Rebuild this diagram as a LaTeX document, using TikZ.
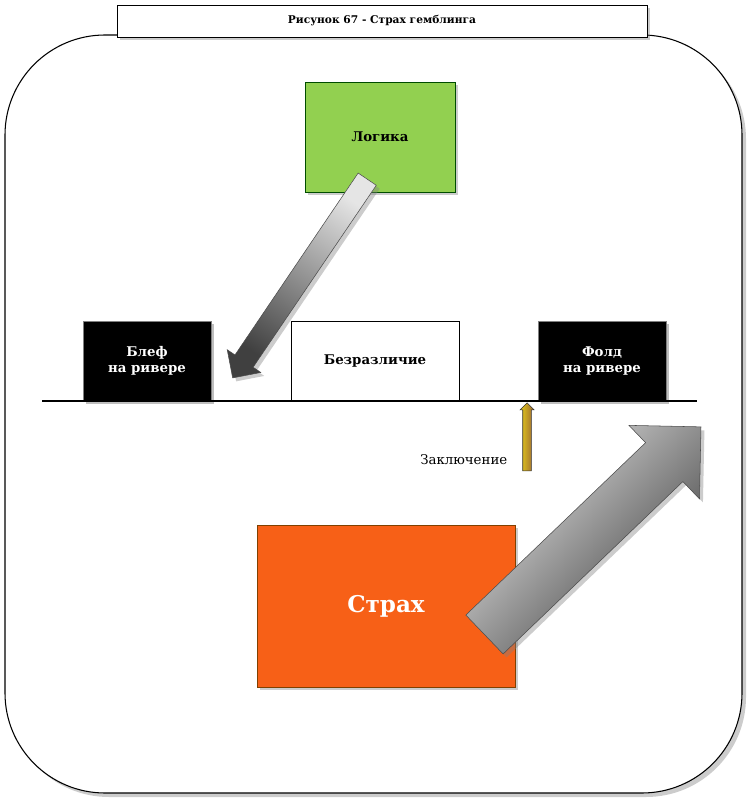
\documentclass[tikz,border=0pt]{standalone}
\usepackage{fontspec}
\setmainfont{DejaVu Serif}
\usetikzlibrary{shapes.arrows,shadows}
\definecolor{lgreen}{HTML}{92D050}
\definecolor{forange}{HTML}{F76017}
\begin{document}
\begin{tikzpicture}[x=0.75pt,y=-0.75pt,
  box/.style={draw=black,minimum width=#1,inner sep=0pt,align=center,font=\bfseries\normalsize},
  blk/.style={fill=black,text=white,draw=gray,drop shadow={opacity=0.5}},
  garrow/.style={single arrow,draw=black!70,left color=gray!20,right color=black!75,single arrow head indent=0pt,minimum height=#1}]
\useasboundingbox (0,0) rectangle (748,798);
\node[draw=black,line width=0.8pt,rounded corners=75pt,minimum width=737*0.75pt,minimum height=758*0.75pt,fill=white,drop shadow={opacity=0.4,shadow xshift=3pt,shadow yshift=-3pt}] (frame) at (373.5,414) {};
\node[draw=black,fill=white,minimum width=530*0.75pt,minimum height=32*0.75pt,font=\bfseries\footnotesize,drop shadow={opacity=0.4}] (title) at (382,21) {Рисунок 67 - Страх гемблинга};
\node[box=150*0.75pt,minimum height=110*0.75pt,fill=lgreen,draw=green!30!black,drop shadow={opacity=0.4}] (logic) at (380,137) {Логика};
\node[box=128*0.75pt,minimum height=80*0.75pt,blk] (bluff) at (147,361) {Блеф\\на ривере};
\node[box=168*0.75pt,minimum height=80*0.75pt,fill=white] (indif) at (375,361) {Безразличие};
\node[box=128*0.75pt,minimum height=80*0.75pt,blk] (fold) at (602,361) {Фолд\\на ривере};
\coordinate (l1) at (42,401); \coordinate (l2) at (697,401);
\draw[line width=1pt] (l1) -- (l2);
\node[box=258*0.75pt,minimum height=162*0.75pt,fill=forange,draw=orange!50!black,text=white,font=\bfseries\LARGE,drop shadow={opacity=0.4}] (fear) at (386,606) {Страх};
\node[single arrow,draw=black!80,left color=yellow!60!brown,right color=brown!80!black,shading angle=90,minimum height=68*0.75pt,inner sep=3pt,single arrow head extend=2pt,single arrow head indent=0pt,rotate=90] (conc) at (527,439) {};
\node[anchor=east,font=\normalsize] (conclab) at (512,460) {Заключение};
\node[garrow=240*0.75pt,inner sep=8pt,single arrow head extend=7pt,rotate=235.9,shading angle=-34,drop shadow={opacity=0.4}] (a1) at (303,274) {};
\node[garrow=300*0.75pt,inner sep=20pt,single arrow head extend=18pt,rotate=43.8,shading angle=46,drop shadow={opacity=0.4}] (a2) at (583,540) {};
\end{tikzpicture}
\end{document}
